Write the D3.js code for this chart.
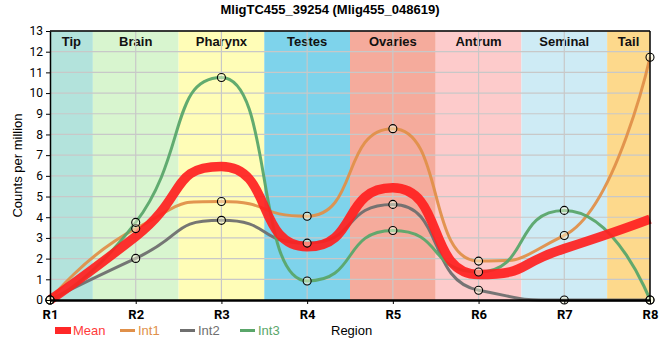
<!DOCTYPE html>
<html><head><meta charset="utf-8">
<script src="https://cdn.jsdelivr.net/npm/d3@7"></script>
<style>body{margin:0;background:#fff}svg{font-family:"Liberation Sans",Arial,sans-serif}</style>
</head><body><svg id="c" width="660" height="360"></svg>
<script>
const regions = ["R1","R2","R3","R4","R5","R6","R7","R8"];
const bands = ["Tip","Brain","Pharynx","Testes","Ovaries","Antrum","Seminal","Tail"];
const bandColors = ["#b3e3dc","#d8f5cf","#fffdb7","#7ed3eb","#f5ab9c","#fdcbcb","#ceebf5","#fdd98c"];
const int1 = [0, 3.45, 4.76, 4.05, 8.28, 1.88, 3.12, 11.73];
const int2 = [0, 2.01, 3.85, 2.75, 4.62, 0.47, 0, 0];
const int3 = [0, 3.75, 10.75, 0.92, 3.36, 1.35, 4.33, 0];
const mean = regions.map((r,i)=> (int1[i]+int2[i]+int3[i])/3);
const yTicks = d3.range(0,14);

const svg = d3.select("#c");
const L=50,R=650,T=31,B=300;
const x = d3.scalePoint().domain(regions).range([L,R]);
const y = d3.scaleLinear().domain([0,13]).range([B,T]);
const step = x.step();

// spline path: control arms of fraction F, flat at local extremes
const F = 0.6;
function splinePath(vals){
  const p = vals.map((v,i)=>({x:x(regions[i]), y:y(v)}));
  const path = d3.path();
  path.moveTo(p[0].x,p[0].y);
  let prevRC = null;
  for(let i=1;i<p.length;i++){
    const pt=p[i], last=p[i-1], next=p[i+1];
    let lcx=pt.x, lcy=pt.y, rc=null;
    if(next){
      lcx=pt.x+F*(last.x-pt.x); lcy=pt.y+F*(last.y-pt.y);
      let rcx=pt.x+F*(next.x-pt.x), rcy=pt.y+F*(next.y-pt.y);
      let corr=0;
      if(rcx!==lcx) corr=((rcy-lcy)*(rcx-pt.x))/(rcx-lcx)+pt.y-rcy;
      lcy+=corr; rcy+=corr;
      if(lcy>last.y && lcy>pt.y){ lcy=Math.max(last.y,pt.y); rcy=2*pt.y-lcy; }
      else if(lcy<last.y && lcy<pt.y){ lcy=Math.min(last.y,pt.y); rcy=2*pt.y-lcy; }
      if(rcy>next.y && rcy>pt.y){ rcy=Math.max(next.y,pt.y); lcy=2*pt.y-rcy; }
      else if(rcy<next.y && rcy<pt.y){ rcy=Math.min(next.y,pt.y); lcy=2*pt.y-rcy; }
      rc={x:rcx,y:rcy};
    }
    const c1 = prevRC || last;
    path.bezierCurveTo(c1.x,c1.y,lcx,lcy,pt.x,pt.y);
    prevRC = rc;
  }
  return path.toString();
}

// bands
bands.forEach((b,i)=>{
  const x0 = Math.max(L, x(regions[i]) - step/2), x1 = Math.min(R, x(regions[i]) + step/2);
  svg.append("rect").attr("x",x0).attr("y",T).attr("width",x1-x0).attr("height",B-T).attr("fill",bandColors[i]);
  svg.append("text").attr("x",(x0+x1)/2).attr("y",T+15).attr("text-anchor","middle")
    .attr("font-size",13).attr("font-weight","bold").attr("fill","#111").text(b);
});
// grid
svg.append("g").selectAll("line").data(yTicks.slice(1)).join("line")
  .attr("x1",L).attr("x2",R).attr("y1",d=>y(d)).attr("y2",d=>y(d)).attr("stroke","#c8c8c8").attr("stroke-width",1.2);
svg.append("g").selectAll("line").data(regions.slice(1,-1)).join("line")
  .attr("x1",d=>x(d)).attr("x2",d=>x(d)).attr("y1",T).attr("y2",B).attr("stroke","#c8c8c8").attr("stroke-width",1.2);

const series = [
  {name:"Int1", data:int1, color:"#e0904a"},
  {name:"Int2", data:int2, color:"#6f6f6f"},
  {name:"Int3", data:int3, color:"#5aa66a"}
];
const plot = svg.append("g");
series.forEach(s=>{
  plot.append("path").attr("d",splinePath(s.data)).attr("fill","none").attr("stroke",s.color).attr("stroke-width",3).attr("stroke-opacity",0.95);
});
plot.append("path").attr("d",splinePath(mean)).attr("fill","none").attr("stroke","#ff2020").attr("stroke-width",9.5).attr("stroke-opacity",0.92);
series.forEach(s=>{
  plot.selectAll(null).data(s.data).join("circle")
    .attr("cx",(d,i)=>x(regions[i])).attr("cy",d=>y(d)).attr("r",4)
    .attr("fill","rgba(255,255,225,0.45)").attr("stroke","#000").attr("stroke-width",1.1);
});

// border
svg.append("line").attr("x1",L).attr("x2",R).attr("y1",T).attr("y2",T).attr("stroke","#000").attr("stroke-width",1.5);
svg.append("line").attr("x1",R).attr("x2",R).attr("y1",T).attr("y2",B).attr("stroke","#000").attr("stroke-width",1.5);

// axes
const ya = svg.append("g").attr("transform",`translate(${L},0)`)
  .call(d3.axisLeft(y).tickValues(yTicks).tickSize(4).tickSizeOuter(0));
ya.select(".domain").attr("stroke","#000").attr("stroke-width",1.5);
ya.selectAll("text").attr("font-size",12).attr("fill","#000").attr("font-family","Roboto, 'Liberation Sans', sans-serif");
const xa = svg.append("g").attr("transform",`translate(0,${B})`)
  .call(d3.axisBottom(x).tickSize(4).tickSizeOuter(0));
xa.select(".domain").attr("stroke","#000").attr("stroke-width",2.5);
xa.selectAll("text").attr("font-size",13).attr("font-weight","bold").attr("fill","#000").attr("dy","0.9em")
  .attr("font-family","Roboto, 'Liberation Sans', sans-serif");

// title & labels
svg.append("text").attr("x",330).attr("y",14).attr("text-anchor","middle").attr("font-size",13).attr("font-weight","bold").text("MligTC455_39254 (Mlig455_048619)");
svg.append("text").attr("transform",`translate(22,${(T+B)/2}) rotate(-90)`).attr("text-anchor","middle").attr("font-size",13).text("Counts per million");
svg.append("text").attr("x",331).attr("y",335).attr("font-size",13).text("Region");

// legend
const lg = svg.append("g");
lg.append("rect").attr("x",55).attr("y",327).attr("width",16).attr("height",7).attr("fill","#ff2828");
lg.append("text").attr("x",73).attr("y",335).attr("font-size",13).attr("fill","#ff3b3b").text("Mean");
const lx=[120,180,240];
series.forEach((s,i)=>{
  lg.append("line").attr("x1",lx[i]).attr("x2",lx[i]+15).attr("y1",330.5).attr("y2",330.5).attr("stroke",s.color).attr("stroke-width",3);
  lg.append("text").attr("x",lx[i]+18).attr("y",335).attr("font-size",13).attr("fill",s.color).text(s.name);
});
</script></body></html>
